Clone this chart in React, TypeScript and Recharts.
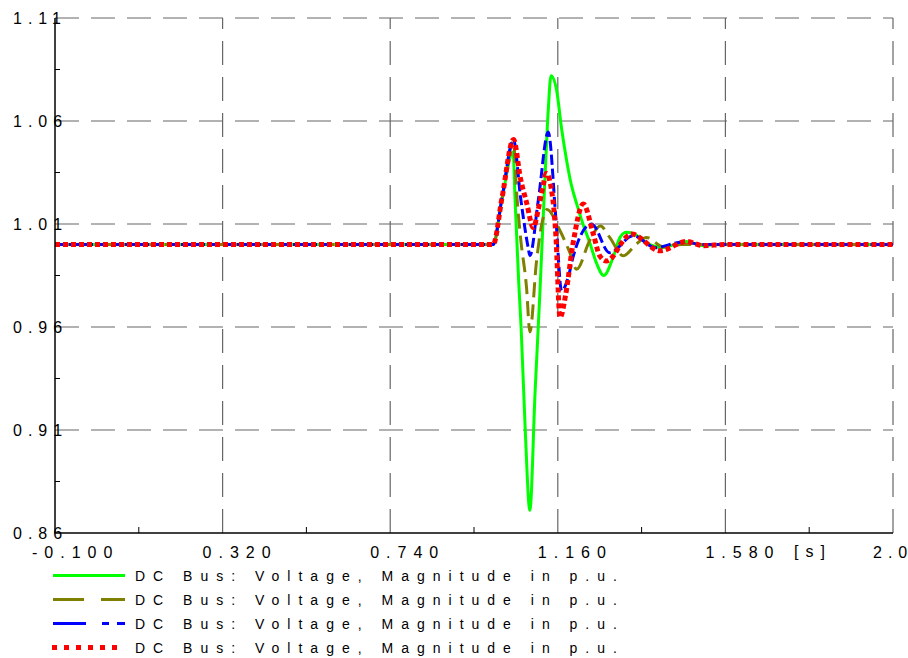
import { LineChart, Line, XAxis, YAxis, ReferenceLine } from "recharts";

// time axis [s]
const xMajorTicks = [-0.1, 0.32, 0.74, 1.16, 1.58, 2.0];
const xMinorTicks = [0.11, 0.53, 0.95, 1.37, 1.79];
const xTickLabels = ["-0.100", "0.320", "0.740", "1.160", "1.580", "2.0"];

// voltage axis [p.u.]
const yMajorTicks = [0.86, 0.91, 0.96, 1.01, 1.06, 1.11];
const yMinorTicks = [0.885, 0.935, 0.985, 1.035, 1.085];
const yTickLabels = ["0.86", "0.91", "0.96", "1.01", "1.06", "1.11"];

// [t, v]
const greenPts: [number, number][] = [
  [-0.1, 1.0], [0.998, 1.0], [1.02, 1.022], [1.048, 1.045], [1.0527, 1.023],
  [1.062, 0.982], [1.068, 0.96], [1.078, 0.912], [1.09, 0.871], [1.103, 0.928],
  [1.115, 0.976], [1.128, 1.033], [1.136, 1.065], [1.143, 1.082], [1.157, 1.075],
  [1.169, 1.057], [1.182, 1.041], [1.194, 1.029], [1.207, 1.02], [1.223, 1.01],
  [1.24, 1.001], [1.257, 0.991], [1.275, 0.985], [1.299, 0.994], [1.316, 1.0035],
  [1.332, 1.006], [1.353, 1.005], [1.374, 1.002], [1.4, 0.9993], [1.424, 0.9986],
  [1.457, 1.0003], [1.482, 1.0015], [1.524, 0.9995], [1.56, 1.0], [2.0, 1.0],
];

const olivePts: [number, number][] = [
  [-0.1, 1.0], [0.998, 1.0], [1.02, 1.022], [1.049, 1.05], [1.0565, 1.026],
  [1.0666, 1.0035], [1.0817, 0.979], [1.09, 0.9576], [1.1067, 0.992], [1.1233, 1.013],
  [1.133, 1.017], [1.1656, 1.0067], [1.19, 0.9962], [1.207, 0.988], [1.24, 1.002],
  [1.267, 1.009], [1.29, 1.0035], [1.324, 0.9946], [1.357, 1.0003], [1.382, 1.0035],
  [1.424, 0.999], [1.47, 1.0], [2.0, 1.0],
];

const bluePts: [number, number][] = [
  [-0.1, 1.0], [0.998, 1.0], [1.02, 1.0225], [1.049, 1.051], [1.0666, 1.023],
  [1.0857, 0.9986], [1.09, 0.9946], [1.111, 1.0213], [1.136, 1.0546], [1.155, 1.0132],
  [1.1695, 0.9776], [1.186, 0.984], [1.198, 0.9938], [1.215, 1.0035], [1.2445, 1.01],
  [1.29, 0.996], [1.349, 1.0043], [1.405, 0.9985], [1.47, 1.0012], [1.53, 1.0],
  [2.0, 1.0],
];

const redPts: [number, number][] = [
  [-0.1, 1.0], [0.998, 1.0], [1.02, 1.0225], [1.049, 1.051], [1.0666, 1.032],
  [1.0816, 1.0205], [1.0987, 1.0083], [1.111, 1.017], [1.1236, 1.029], [1.131, 1.0346],
  [1.148, 1.0213], [1.155, 1.005], [1.1656, 0.9646], [1.18, 0.976], [1.198, 1.0003],
  [1.224, 1.0197], [1.249, 1.0051], [1.265, 0.9946], [1.282, 0.992], [1.303, 0.9955],
  [1.315, 0.9995], [1.345, 1.0051], [1.416, 0.997], [1.483, 1.0015], [1.524, 0.9995],
  [1.58, 1.0], [2.0, 1.0],
];

const seriesName = "DC Bus: Voltage, Magnitude in p.u.";

const series = [
  { key: "green", pts: greenPts, color: "#00ff00", width: 3, dash: undefined, legendDash: undefined },
  { key: "olive", pts: olivePts, color: "#808000", width: 3, dash: "15 7", legendDash: "31 17 24" },
  { key: "blue", pts: bluePts, color: "#0000ff", width: 3, dash: "10 4", legendDash: "33 16 7 8 8" },
  { key: "red", pts: redPts, color: "#ff0000", width: 5, dash: "5 3", legendDash: "5 7" },
];

const FONT = "'Liberation Sans', Arial, sans-serif";
const near = (a: number, b: number) => Math.abs(a - b) < 1e-6;

const XTick = (props: any) => {
  const { x, y, payload } = props;
  const idx = xMajorTicks.findIndex((v) => near(v, payload.value));
  if (idx < 0) {
    return <line x1={x} x2={x} y1={y} y2={y - 6} stroke="#000" strokeWidth={1} />;
  }
  const label = xTickLabels[idx];
  const last = idx === xMajorTicks.length - 1;
  return (
    <text
      x={x - (label.startsWith("-") ? 23 : 20)}
      y={y + 19}
      textAnchor="start"
      dominantBaseline="central"
      fontFamily={FONT}
      fontSize={16}
      letterSpacing={last ? 6 : 7}
      fill="#000"
    >
      {label}
    </text>
  );
};

const YTick = (props: any) => {
  const { x, y, payload } = props;
  const idx = yMajorTicks.findIndex((v) => near(v, payload.value));
  if (idx < 0) {
    return <line x1={x} x2={x + 5} y1={y} y2={y} stroke="#000" strokeWidth={1} />;
  }
  return (
    <text
      x={x - 42}
      y={y}
      textAnchor="start"
      dominantBaseline="central"
      fontFamily={FONT}
      fontSize={16}
      letterSpacing={6}
      fill="#000"
    >
      {yTickLabels[idx]}
    </text>
  );
};

export default function App() {
  return (
    // body margin dropped and replaced by an 8px offset, so the page spans the full 908x658
    <div style={{ position: "relative", width: 908, height: 658 }}>
      <style>{"body{margin:0}"}</style>
      <div style={{ position: "absolute", left: 8, top: 8 }}>
        <LineChart width={900} height={650} margin={{ top: 10, right: 15, left: 0, bottom: 85 }}>
          <XAxis
            type="number"
            dataKey="t"
            domain={[-0.1, 2.0]}
            ticks={[...xMajorTicks, ...xMinorTicks]}
            interval={0}
            height={40}
            tickSize={0}
            tickMargin={0}
            tickLine={false}
            axisLine={{ stroke: "#000", strokeWidth: 1.5 }}
            tick={<XTick />}
            allowDataOverflow
          />
          <YAxis
            type="number"
            domain={[0.86, 1.11]}
            ticks={[...yMajorTicks, ...yMinorTicks]}
            interval={0}
            width={47}
            tickSize={0}
            tickMargin={0}
            tickLine={false}
            axisLine={{ stroke: "#000", strokeWidth: 1.5 }}
            tick={<YTick />}
            allowDataOverflow
          />
          {xMajorTicks.slice(1).map((v) => (
            <ReferenceLine key={"gx" + v} x={v} stroke="#666" strokeWidth={1.2} strokeDasharray="24 12" />
          ))}
          {yMajorTicks.slice(1).map((v) => (
            <ReferenceLine key={"gy" + v} y={v} stroke="#666" strokeWidth={1.2} strokeDasharray="24 12" />
          ))}
          {series.map((s) => (
            <Line
              key={s.key}
              data={s.pts.map(([t, v]) => ({ t, v }))}
              dataKey="v"
              type="monotone"
              stroke={s.color}
              strokeWidth={s.width}
              strokeDasharray={s.dash}
              strokeLinecap="butt"
              dot={false}
              activeDot={false}
              isAnimationActive={false}
            />
          ))}
        </LineChart>
        <svg
          width={900}
          height={650}
          style={{ position: "absolute", left: 0, top: 0, pointerEvents: "none" }}
        >
          <text
            x={805}
            y={543}
            textAnchor="middle"
            dominantBaseline="central"
            fontFamily={FONT}
            fontSize={16}
            letterSpacing={7}
          >
            [s]
          </text>
          {series.map((s, i) => {
            const y = 567.5 + i * 24;
            return (
              <g key={s.key}>
                <line
                  x1={s.key === "red" ? 44 : 45}
                  x2={s.key === "red" ? 110 : 117}
                  y1={y}
                  y2={y}
                  stroke={s.color}
                  strokeWidth={s.width}
                  strokeDasharray={s.legendDash}
                />
                <text
                  x={127}
                  y={y}
                  dominantBaseline="central"
                  fontFamily={FONT}
                  fontSize={14}
                  letterSpacing={8}
                >
                  {seriesName}
                </text>
              </g>
            );
          })}
        </svg>
      </div>
    </div>
  );
}
